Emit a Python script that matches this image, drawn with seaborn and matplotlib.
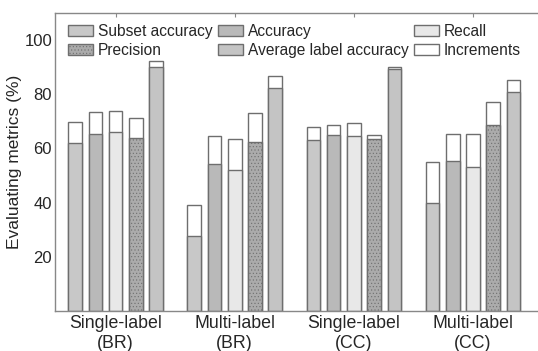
import numpy as np
import pandas as pd
import matplotlib
matplotlib.use('Agg')
import matplotlib.pyplot as plt
from matplotlib.patches import Patch
import seaborn as sns

# data
groups = ['Single-label\n(BR)', 'Multi-label\n(BR)', 'Single-label\n(CC)', 'Multi-label\n(CC)']
metrics = ['Subset accuracy', 'Accuracy', 'Recall', 'Precision', 'Average label accuracy']
# base values (before increment), per metric across groups
subset_base = [62.0, 27.8, 63.2, 40.0]
accuracy_base = [65.5, 54.4, 65.0, 55.3]
recall_base = [66.2, 52.2, 64.6, 53.1]
precision_base = [63.7, 62.4, 63.6, 68.8]
avglabel_base = [90.1, 82.4, 89.5, 81.0]
# totals (base + increment)
subset_total = [69.8, 39.3, 67.8, 54.9]
accuracy_total = [73.6, 64.5, 68.5, 65.3]
recall_total = [73.7, 63.6, 69.3, 65.5]
precision_total = [71.4, 72.9, 65.0, 77.1]
avglabel_total = [92.4, 86.7, 90.1, 85.2]

base = [subset_base, accuracy_base, recall_base, precision_base, avglabel_base]
total = [subset_total, accuracy_total, recall_total, precision_total, avglabel_total]

rows = []
for m, b, t in zip(metrics, base, total):
    for g, bv, tv in zip(groups, b, t):
        rows.append({'group': g, 'metric': m, 'base': bv, 'total': tv})
df = pd.DataFrame(rows)

colors = ['#c8c8c8', '#b9b9b9', '#e8e8e8', '#ababab', '#c4c4c4']
edge = '#6e6e6e'

sns.set_style('white')
plt.rcParams['font.family'] = ['Liberation Sans', 'DejaVu Sans']
plt.rcParams['hatch.linewidth'] = 0.4

fig = plt.figure(figsize=(5.38, 3.51), dpi=100)
ax = fig.add_axes([0.102, 0.114, 0.91, 0.849])

# increments: totals in white, then bases on top
sns.barplot(data=df, x='group', y='total', hue='metric', hue_order=metrics,
            palette=['white'] * 5, width=0.85, gap=0.33, edgecolor=edge,
            linewidth=1.0, legend=False, ax=ax, errorbar=None)
sns.barplot(data=df, x='group', y='base', hue='metric', hue_order=metrics,
            palette=colors, width=0.85, gap=0.33, edgecolor=edge,
            linewidth=1.0, legend=False, ax=ax, errorbar=None, saturation=1)

# dotted texture for precision bars
prec = ax.containers[8]
for p in prec:
    p.set_hatch('.....')

ax.set_xlim(-0.51, 3.6)
ax.set_ylim(0, 110)
ax.set_yticks([20, 40, 60, 80, 100])
ax.set_xlabel('')
ax.set_ylabel('Evaluating metrics (%)', fontsize=12.5, labelpad=2)
ax.tick_params(axis='y', direction='in', length=3, labelsize=12, color='#888888', pad=2)
ax.tick_params(axis='x', direction='in', length=3, labelsize=12.8, color='#888888',
               top=True, bottom=False, pad=3)
for s in ['left', 'bottom', 'top']:
    ax.spines[s].set_color('#888888')
    ax.spines[s].set_linewidth(1.0)
ax.spines['right'].set_visible(False)

handles = [Patch(facecolor=colors[0], edgecolor=edge, label='Subset accuracy'),
           Patch(facecolor=colors[3], edgecolor=edge, hatch='.....', label='Precision'),
           Patch(facecolor=colors[1], edgecolor=edge, label='Accuracy'),
           Patch(facecolor=colors[4], edgecolor=edge, label='Average label accuracy'),
           Patch(facecolor=colors[2], edgecolor=edge, label='Recall'),
           Patch(facecolor='white', edgecolor=edge, label='Increments')]
ax.legend(handles=handles, ncol=3, loc='upper left', bbox_to_anchor=(0.015, 0.985),
          frameon=False, fontsize=11.2, handlelength=1.6, handleheight=0.7,
          handletextpad=0.3, columnspacing=0.35, labelspacing=0.25, borderaxespad=0)

fig.savefig('out.png', dpi=100)
